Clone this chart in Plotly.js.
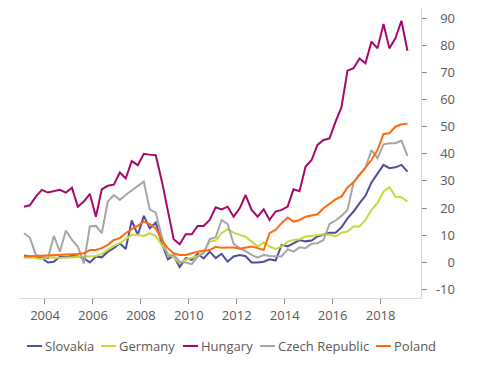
<!DOCTYPE html>
<html>
<head>
<meta charset="utf-8">
<script src="https://cdn.plot.ly/plotly-3.0.1.min.js"></script>
<style>html,body{margin:0;padding:0;background:#fff;}#chart{width:485px;height:370px;}</style>
</head>
<body>
<div id="chart"></div>
<script>
// Quarterly observations, 2003Q1 .. 2019Q1
const firstYear = 2003;
const nQuarters = 65;
const quarterMonths = ['02', '05', '08', '11'];

const slovakia = [2.5,2.1,1.8,1.5,-0.1,0.2,2.1,1.8,2.3,2.1,
  1.5,-0.1,2.1,1.8,3.9,5.2,7.0,4.9,15.4,10.1,
  17.1,12.5,14.6,7.0,1.1,2.3,-1.8,1.5,0.9,3.1,
  1.4,3.9,1.5,3.1,0.2,2.1,2.7,2.2,-0.1,-0.1,
  0.2,1.1,0.6,6.4,5.8,7.0,8.2,7.7,8.0,9.5,
  10.1,10.9,10.9,12.9,16.2,18.7,21.8,24.5,29.4,32.8,
  35.9,34.7,35.0,35.9,33.4];

const germany = [1.7,1.8,1.5,1.2,1.7,1.8,1.6,1.7,1.8,1.9,
  2.0,2.0,2.3,3.1,4.5,6.0,7.0,8.5,10.1,10.1,
  9.7,10.7,9.7,6.4,3.3,1.8,-0.4,0.9,1.5,2.3,
  3.9,7.6,8.0,10.7,12.2,10.9,10.1,9.4,7.6,5.8,
  7.3,5.8,4.9,5.8,7.6,8.2,8.5,9.5,9.7,10.1,
  10.3,10.1,9.5,10.9,11.3,13.2,13.2,15.6,19.3,21.8,
  26.1,27.7,24.2,24.0,22.4];

const hungary = [20.5,21.0,24.2,26.7,25.7,26.2,26.7,25.7,27.5,20.5,
  22.4,25.2,16.8,26.9,28.2,28.6,33.1,30.9,37.3,35.8,
  40.0,39.7,39.5,30.0,18.5,8.5,6.6,10.3,10.3,13.4,
  13.4,15.6,20.3,19.5,20.5,16.8,19.9,24.8,19.3,16.8,
  19.5,15.6,18.7,19.3,20.5,26.9,26.2,35.3,37.7,43.3,
  45.1,45.7,51.9,57.2,70.7,71.6,75.2,73.4,81.4,78.9,
  87.9,78.9,82.6,89.1,78.0];

const czech = [10.7,9.1,2.7,2.1,1.5,9.7,3.9,11.7,8.2,5.8,
  -0.4,13.2,13.4,10.7,22.4,24.8,23.0,24.8,26.4,27.9,
  29.8,19.5,18.3,9.5,2.1,2.7,0.2,-0.1,-0.7,2.1,
  3.3,8.5,9.2,15.6,14.1,6.8,5.2,4.1,2.7,1.7,
  2.7,2.3,2.1,2.1,4.8,3.9,5.5,5.2,6.8,7.0,
  8.2,14.1,15.4,17.1,19.3,29.4,32.5,34.7,41.4,38.4,
  43.5,43.9,43.9,44.9,39.2];

const poland = [2.1,2.2,2.3,2.4,2.5,2.6,2.7,2.8,2.8,3.0,
  3.3,4.5,4.5,5.2,6.4,8.2,8.9,10.7,12.2,13.4,
  15.0,14.1,12.5,8.2,5.2,3.3,2.7,2.7,3.3,3.9,
  4.2,4.5,5.7,5.3,5.4,5.4,5.0,5.4,5.8,5.2,
  4.5,10.7,11.9,14.4,16.5,15.0,15.6,16.8,17.2,17.7,
  19.9,21.5,23.2,24.2,27.6,29.5,32.2,34.7,37.7,41.4,
  47.3,47.6,50.0,50.9,51.1];

const seriesNames = ['Slovakia', 'Germany', 'Hungary', 'Czech Republic', 'Poland'];
const seriesColors = ['#4e4f9c', '#c9d83a', '#a5096a', '#a6a6a6', '#ff6a0e'];
const yTickVals = [-10, 0, 10, 20, 30, 40, 50, 60, 70, 80, 90];

const dates = [];
for (let i = 0; i < nQuarters; i++) {
  const y = firstYear + Math.floor(i / 4);
  dates.push(y + '-' + quarterMonths[i % 4] + '-15');
}

const allSeries = [slovakia, germany, hungary, czech, poland];
const traces = allSeries.map((vals, k) => ({
  type: 'scatter', mode: 'lines', x: dates, y: vals, name: seriesNames[k],
  line: {color: seriesColors[k], width: 2}, hoverinfo: 'skip', showlegend: false
}));
traces.push({type: 'scatter', mode: 'lines', x: [], y: [], yaxis: 'y2', showlegend: false, hoverinfo: 'skip'});

const font = {family: '"Open Sans", "Segoe UI", sans-serif', size: 13, color: '#595959'};
const yRange = [-13.2, 93.8];
const W = 485, H = 370, L = 19, R = 20, T = 8, B = 72;
const paperW = W - L - R, paperH = H - T - B;
const px2x = px => (px - L) / paperW;
const py2y = py => (H - B - py) / paperH;

// Custom legend layout (pixel positions of each entry's text start)
const legendTextPx = [45, 119, 201, 278, 394];
const legendRowPy = 346;
const shapes = [], annotations = [];
seriesNames.forEach((nm, k) => {
  const tx = legendTextPx[k];
  shapes.push({type: 'line', xref: 'paper', yref: 'paper',
    x0: px2x(tx - 18), x1: px2x(tx - 3), y0: py2y(legendRowPy), y1: py2y(legendRowPy),
    line: {color: seriesColors[k], width: 2}});
  annotations.push({xref: 'paper', yref: 'paper', x: px2x(tx - 2), y: py2y(legendRowPy),
    xanchor: 'left', yanchor: 'middle', text: nm, showarrow: false, font: font});
});

const layout = {
  width: W, height: H,
  margin: {l: L, r: R, t: T, b: B},
  paper_bgcolor: '#ffffff', plot_bgcolor: '#ffffff',
  font: font,
  showlegend: false,
  shapes: shapes, annotations: annotations,
  xaxis: {
    type: 'date', domain: [0, px2x(421)],
    range: ['2002-12-01', '2019-09-09'],
    tick0: '2004-01-01', dtick: 'M24', tickformat: '%Y',
    showgrid: false, zeroline: false,
    showline: true, linecolor: '#d9d9d9', linewidth: 1,
    ticks: 'outside', ticklen: 5, tickcolor: '#8c8c8c', tickwidth: 1,
    tickfont: font
  },
  yaxis: {
    side: 'right', anchor: 'x', range: yRange,
    tickvals: yTickVals, showticklabels: false,
    showgrid: false, zeroline: false,
    showline: true, linecolor: '#d9d9d9', linewidth: 1,
    ticks: 'outside', ticklen: 5, tickcolor: '#8c8c8c', tickwidth: 1
  },
  yaxis2: {
    overlaying: 'y', side: 'left', anchor: 'free', position: px2x(455),
    range: yRange, tickvals: yTickVals, ticktext: yTickVals.map(v => v < 0 ? '-' + Math.abs(v) : String(v)),
    showgrid: false, zeroline: false, showline: false, ticks: '',
    tickfont: font
  }
};

Plotly.newPlot('chart', traces, layout, {staticPlot: true, displayModeBar: false});
</script>
</body>
</html>
